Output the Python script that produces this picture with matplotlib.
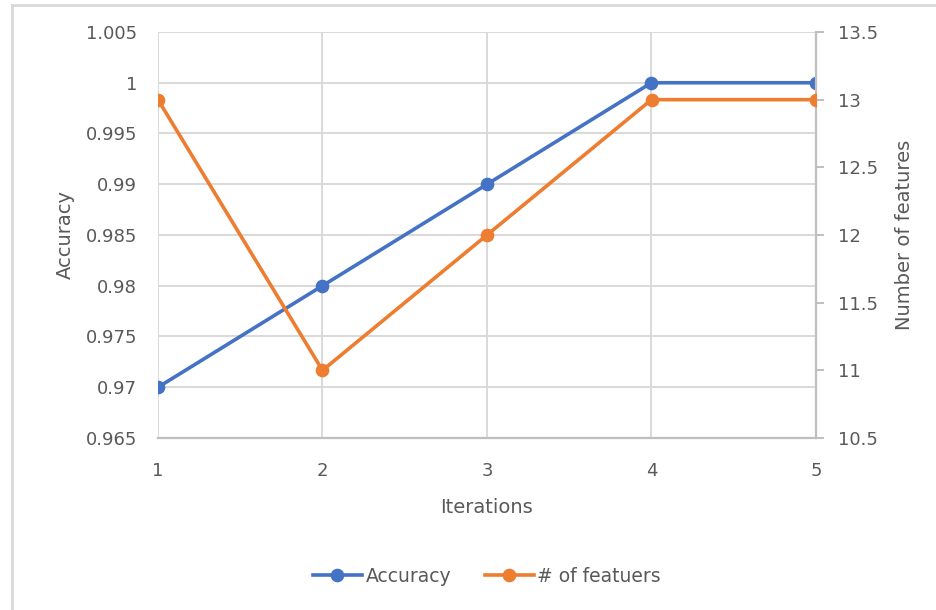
import matplotlib.pyplot as plt
from matplotlib.lines import Line2D

# data
iterations = [1, 2, 3, 4, 5]
accuracy = [0.97, 0.98, 0.99, 1.0, 1.0]
n_features = [13, 11, 12, 13, 13]

acc_ticks = [0.965, 0.97, 0.975, 0.98, 0.985, 0.99, 0.995, 1.0, 1.005]
acc_labels = ["0.965", "0.97", "0.975", "0.98", "0.985", "0.99", "0.995", "1", "1.005"]
feat_ticks = [10.5, 11, 11.5, 12, 12.5, 13, 13.5]
feat_labels = ["10.5", "11", "11.5", "12", "12.5", "13", "13.5"]

BLUE = "#4472C4"
ORANGE = "#ED7D31"
TXT = "#595959"
GRID = "#D9D9D9"
AXIS = "#BFBFBF"

plt.rcParams["font.family"] = ["DejaVu Sans"]

W, H = 937, 610
fig = plt.figure(figsize=(W / 100, H / 100), dpi=100)
ax = fig.add_axes([158 / W, 1 - 438 / H, (816 - 158) / W, (438 - 32) / H])
ax2 = ax.twinx()

ax.plot(iterations, accuracy, color=BLUE, lw=2.6, marker="o", ms=8.8,
        label="Accuracy", zorder=3)
ax2.plot(iterations, n_features, color=ORANGE, lw=2.6, marker="o", ms=8.8,
         label="# of featuers", zorder=3)

ax.set_xlim(1, 5)
ax.set_ylim(0.965, 1.005)
ax2.set_ylim(10.5, 13.5)
ax.set_xticks(iterations)
ax.set_xticklabels([str(i) for i in iterations])
ax.set_yticks(acc_ticks)
ax.set_yticklabels(acc_labels)
ax2.set_yticks(feat_ticks)
ax2.set_yticklabels(feat_labels)

ax.grid(True, color=GRID, lw=1.4)
ax.set_axisbelow(True)

for a in (ax, ax2):
    for s in a.spines.values():
        s.set_visible(False)
ax2.spines["bottom"].set_visible(True)
ax2.spines["bottom"].set_color(AXIS)
ax2.spines["bottom"].set_linewidth(1.6)
ax2.spines["right"].set_visible(True)
ax2.spines["right"].set_color(AXIS)
ax2.spines["right"].set_linewidth(1.6)

ax.tick_params(axis="x", length=0, pad=17, labelsize=13, labelcolor=TXT)
ax.tick_params(axis="y", length=0, pad=15, labelsize=13, labelcolor=TXT)
ax2.tick_params(axis="y", length=6, width=1.4, color=AXIS, pad=10,
                labelsize=13, labelcolor=TXT)

ax.set_xlabel("Iterations", fontsize=14, color=TXT, labelpad=13)
ax.set_ylabel("Accuracy", fontsize=14, color=TXT, labelpad=8)
ax2.set_ylabel("Number of features", fontsize=14, color=TXT, labelpad=12)

handles = [
    Line2D([], [], color=BLUE, lw=2.6, marker="o", ms=8.8),
    Line2D([], [], color=ORANGE, lw=2.6, marker="o", ms=8.8),
]
fig.legend(handles, ["Accuracy", "# of featuers"], loc="center",
           bbox_to_anchor=(487 / W, 1 - 576 / H), ncol=2, frameon=False,
           fontsize=13.5, labelcolor=TXT, handlelength=2.6,
           handletextpad=0.2, columnspacing=1.8)

# chart frame (top and left edges)
fig.add_artist(Line2D([12 / W, 12 / W], [0, 1 - 5 / H], transform=fig.transFigure,
                      color=GRID, lw=2))
fig.add_artist(Line2D([12 / W, 1], [1 - 5 / H, 1 - 5 / H], transform=fig.transFigure,
                      color=GRID, lw=2))

fig.savefig("out.png", dpi=100)
